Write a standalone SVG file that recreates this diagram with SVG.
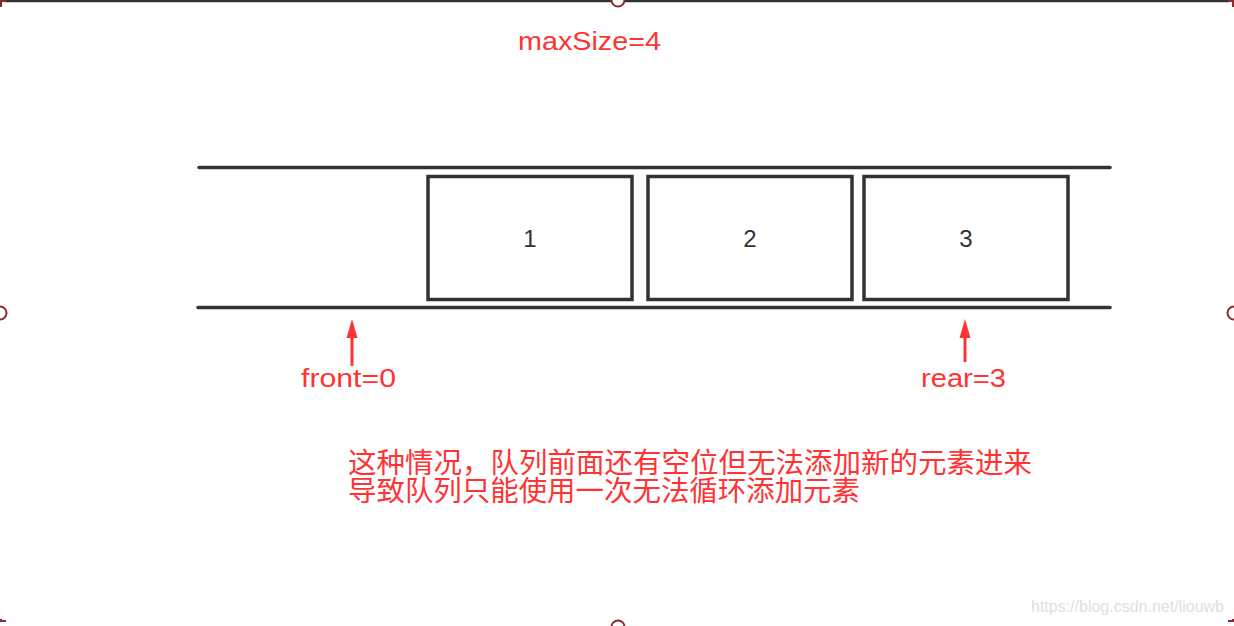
<svg xmlns="http://www.w3.org/2000/svg" width="1234" height="626" viewBox="0 0 1234 626">
<style>
.frame{stroke:#333;stroke-width:2.5;fill:none}
.corner{stroke:#8b2a2a;stroke-width:2;fill:none}
.handle{stroke:#8b2a2a;stroke-width:2;fill:#fff}
.rail{stroke:#333;stroke-width:3.5;stroke-linecap:round}
.cell{stroke:#333;stroke-width:3.5;fill:#fff}
.num{font-family:"Liberation Sans",Arial,sans-serif;font-size:24px;fill:#333;text-anchor:middle}
.red{font-family:"Liberation Sans","Noto Sans CJK SC",sans-serif;fill:#ff3333}
.arrow{stroke:#ff3333;stroke-width:3}
.head{fill:#ff3333}
.wm{font-family:"Liberation Sans",Arial,sans-serif;font-size:16px;fill:#e0e0e0;text-anchor:end}
</style>
<rect width="1234" height="626" fill="#fff"/>
<g id="frame">
<line class="frame" x1="5" y1="1" x2="1229" y2="1"/>
<path class="corner" d="M1 7 V1 H6"/>
<path class="corner" d="M1228 1 H1233 V7"/>
<path class="corner" d="M1 619 V621 H6"/>
<path class="corner" d="M1228 621 H1233 V619"/>
<circle class="handle" cx="618" cy="0" r="6.5"/>
<circle class="handle" cx="0" cy="313" r="6.5"/>
<circle class="handle" cx="1234" cy="313" r="6.5"/>
<circle class="handle" cx="618" cy="627" r="6.5"/>
</g>
<g id="maxSize">
<text class="red" x="518" y="50" font-size="25" textLength="143" lengthAdjust="spacingAndGlyphs">maxSize=4</text>
</g>
<g id="queue">
<line class="rail" x1="199" y1="167.5" x2="1110" y2="167.5"/>
<line class="rail" x1="198" y1="307.5" x2="1110" y2="307.5"/>
</g>
<g id="cell1">
<rect class="cell" x="428" y="176.5" width="204" height="123"/>
<text class="num" x="530" y="247">1</text>
</g>
<g id="cell2">
<rect class="cell" x="648" y="176.5" width="204" height="123"/>
<text class="num" x="750" y="247">2</text>
</g>
<g id="cell3">
<rect class="cell" x="864" y="176.5" width="204" height="123"/>
<text class="num" x="966" y="247">3</text>
</g>
<g id="connectors">
<line class="arrow" x1="352" y1="366" x2="352" y2="334"/>
<polygon class="head" points="352,319 357.5,338 346.5,338"/>
<line class="arrow" x1="965" y1="362" x2="965" y2="334"/>
<polygon class="head" points="965,319 970.5,338 959.5,338"/>
</g>
<g id="front">
<text class="red" x="301" y="387" font-size="26" textLength="95" lengthAdjust="spacingAndGlyphs">front=0</text>
</g>
<g id="rear">
<text class="red" x="921" y="387" font-size="26" textLength="85" lengthAdjust="spacingAndGlyphs">rear=3</text>
</g>
<g id="note">
<text class="red" x="348" y="473" font-size="28" textLength="684" lengthAdjust="spacingAndGlyphs">这种情况，队列前面还有空位但无法添加新的元素进来</text>
<text class="red" x="348" y="501" font-size="28" textLength="512" lengthAdjust="spacingAndGlyphs">导致队列只能使用一次无法循环添加元素</text>
</g>
<text class="wm" x="1224" y="612">https://blog.csdn.net/liouwb</text>
</svg>
